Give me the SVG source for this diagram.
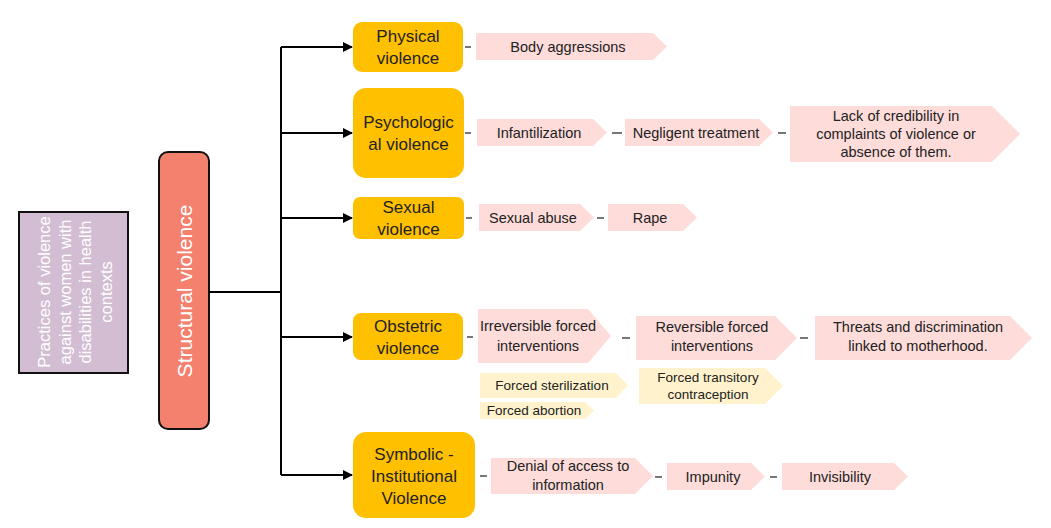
<svg xmlns="http://www.w3.org/2000/svg" width="1051" height="528" viewBox="0 0 1051 528">
<defs>
<style>
text{font-family:"Liberation Sans",Arial,sans-serif;fill:#222;}
.cat rect{fill:#ffc000;}
.cat text{font-size:17px;text-anchor:middle;}
.pk polygon{fill:#fddcda;}
.yl polygon{fill:#fff2cc;}
.pk text,.yl text{font-size:14.5px;text-anchor:middle;}
.yl text{font-size:13.5px;}
.edge{stroke:#000;stroke-width:2;fill:none;}
.dash{stroke:#555;stroke-width:1.6;}
</style>
<marker id="ah" markerWidth="10" markerHeight="10" refX="9" refY="5" orient="auto" markerUnits="userSpaceOnUse">
<path d="M0,0 L10,5 L0,10 Z" fill="#000"/>
</marker>
</defs>
<rect width="1051" height="528" fill="#fff"/>

<g id="root">
<rect x="19" y="212" width="109" height="161" fill="#d3bdd3" stroke="#111" stroke-width="2"/>
<g transform="translate(75,292) rotate(-90)" style="font-size:16.5px">
<text x="0" y="-25" text-anchor="middle" style="fill:#fff">Practices of violence</text>
<text x="0" y="-4.5" text-anchor="middle" style="fill:#fff">against women with</text>
<text x="0" y="16" text-anchor="middle" style="fill:#fff">disabilities in health</text>
<text x="0" y="36.5" text-anchor="middle" style="fill:#fff">contexts</text>
</g>
</g>

<g id="structural">
<rect x="159" y="152" width="50" height="277" rx="9" fill="#f4806e" stroke="#111" stroke-width="2"/>
<text transform="translate(184,291) rotate(-90)" x="0" y="7.5" text-anchor="middle" style="fill:#fff;font-size:21px">Structural violence</text>
</g>

<g id="connectors">
<path class="edge" d="M209,292 H281"/>
<path class="edge" d="M281,47 V475"/>
<path class="edge" d="M281,47 H352" marker-end="url(#ah)"/>
<path class="edge" d="M281,133 H352" marker-end="url(#ah)"/>
<path class="edge" d="M281,218 H352" marker-end="url(#ah)"/>
<path class="edge" d="M281,337 H352" marker-end="url(#ah)"/>
<path class="edge" d="M281,475 H352" marker-end="url(#ah)"/>
<line class="dash" x1="465" y1="47" x2="471" y2="47"/>
<line class="dash" x1="465" y1="133" x2="471" y2="133"/>
<line class="dash" x1="612" y1="133" x2="622" y2="133"/>
<line class="dash" x1="778" y1="133" x2="786" y2="133"/>
<line class="dash" x1="466" y1="218" x2="472" y2="218"/>
<line class="dash" x1="597" y1="218" x2="604" y2="218"/>
<line class="dash" x1="467" y1="337" x2="473" y2="337"/>
<line class="dash" x1="622" y1="338" x2="630" y2="338"/>
<line class="dash" x1="800" y1="338" x2="808" y2="338"/>
<line class="dash" x1="480" y1="476" x2="487" y2="476"/>
<line class="dash" x1="655" y1="477" x2="662" y2="477"/>
<line class="dash" x1="770" y1="477" x2="777" y2="477"/>
</g>

<g id="physical" class="cat">
<rect x="353" y="22" width="110" height="50" rx="9"/>
<text x="408" y="42">Physical</text>
<text x="408" y="64">violence</text>
</g>
<g id="psychological" class="cat">
<rect x="353" y="88" width="111" height="90" rx="13"/>
<text x="408.5" y="128">Psychologic</text>
<text x="408.5" y="150">al violence</text>
</g>
<g id="sexual" class="cat">
<rect x="353" y="197" width="111" height="42" rx="7"/>
<text x="408.5" y="213">Sexual</text>
<text x="408.5" y="235">violence</text>
</g>
<g id="obstetric" class="cat">
<rect x="353" y="313" width="110" height="47" rx="8"/>
<text x="408" y="332">Obstetric</text>
<text x="408" y="354">violence</text>
</g>
<g id="symbolic" class="cat">
<rect x="353" y="432" width="122" height="86" rx="13"/>
<text x="414" y="460">Symbolic -</text>
<text x="414" y="482">Institutional</text>
<text x="414" y="504">Violence</text>
</g>

<g id="body-aggressions" class="pk">
<polygon points="476,33 653,33 667,46.5 653,60 476,60"/>
<text x="568" y="51.5">Body aggressions</text>
</g>
<g id="infantilization" class="pk">
<polygon points="477,119 593,119 607,132.5 593,146 477,146"/>
<text x="539" y="137.5">Infantilization</text>
</g>
<g id="negligent" class="pk">
<polygon points="625,119 759,119 773,132.5 759,146 625,146"/>
<text x="696" y="137.5">Negligent treatment</text>
</g>
<g id="lack-credibility" class="pk">
<polygon points="790,106 992,106 1020,134 992,162 790,162"/>
<text x="896" y="121">Lack of credibility in</text>
<text x="896" y="139">complaints of violence or</text>
<text x="896" y="157">absence of them.</text>
</g>
<g id="sexual-abuse" class="pk">
<polygon points="479,204 580,204 594,217.5 580,231 479,231"/>
<text x="533" y="222.5">Sexual abuse</text>
</g>
<g id="rape" class="pk">
<polygon points="608,204 683,204 697,217.5 683,231 608,231"/>
<text x="650" y="222.5">Rape</text>
</g>
<g id="irreversible" class="pk">
<polygon points="478,309 588,309 611,336 588,363 478,363"/>
<text x="538" y="331">Irreversible forced</text>
<text x="538" y="351">interventions</text>
</g>
<g id="reversible" class="pk">
<polygon points="636,316 775,316 797,338 775,360 636,360"/>
<text x="712" y="332">Reversible forced</text>
<text x="712" y="351">interventions</text>
</g>
<g id="threats" class="pk">
<polygon points="815,316 1010,316 1032,338 1010,360 815,360"/>
<text x="918" y="332">Threats and discrimination</text>
<text x="918" y="351">linked to motherhood.</text>
</g>
<g id="forced-sterilization" class="yl">
<polygon points="480,373 616,373 628,385.5 616,398 480,398"/>
<text x="552" y="390">Forced sterilization</text>
</g>
<g id="forced-abortion" class="yl">
<polygon points="480,402 585,402 594,410.5 585,419 480,419"/>
<text x="534" y="415">Forced abortion</text>
</g>
<g id="forced-contraception" class="yl">
<polygon points="639,368 765,368 783,386 765,404 639,404"/>
<text x="708" y="382">Forced transitory</text>
<text x="708" y="399">contraception</text>
</g>
<g id="denial" class="pk">
<polygon points="491,458 635,458 653,476 635,494 491,494"/>
<text x="568" y="471">Denial of access to</text>
<text x="568" y="490">information</text>
</g>
<g id="impunity" class="pk">
<polygon points="667,463 751,463 765,476.5 751,490 667,490"/>
<text x="713" y="481.5">Impunity</text>
</g>
<g id="invisibility" class="pk">
<polygon points="782,463 894,463 908,476.5 894,490 782,490"/>
<text x="840" y="481.5">Invisibility</text>
</g>
</svg>
